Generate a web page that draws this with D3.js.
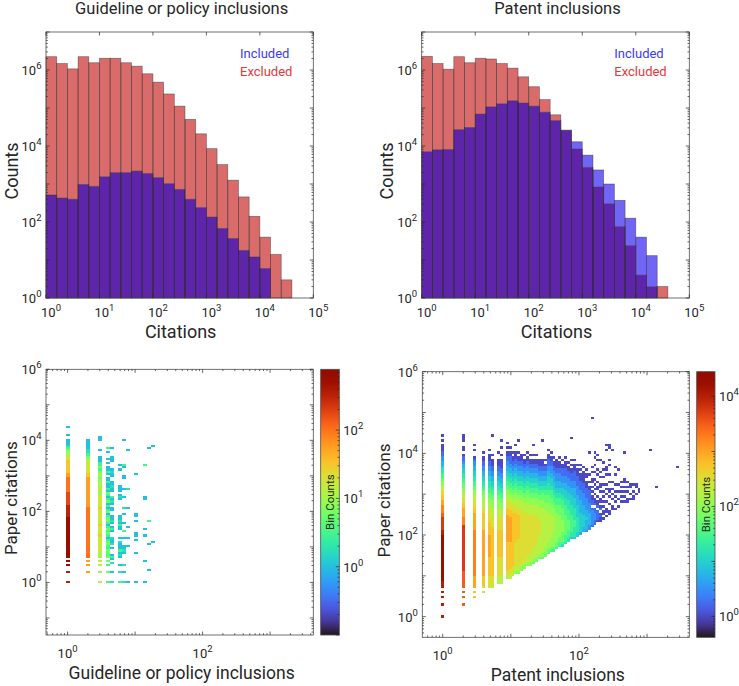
<!DOCTYPE html>
<html lang="en">
<head>
<meta charset="UTF-8">
<title>Inclusions vs citations</title>
<script src="https://d3js.org/d3.v7.min.js"></script>
<style>
body { margin: 0; background: #fff; }
text { font-family: Roboto, "Open Sans", sans-serif; fill: #262626; }
.frame { fill: none; stroke: #4d4d4d; stroke-width: 0.8; }
.tick { stroke: #262626; stroke-width: 0.7; }
.edge { fill: none; stroke: #2a2a2a; stroke-opacity: 0.55; stroke-width: 0.7; }
.cell { shape-rendering: crispEdges; }
</style>
</head>
<body>
<svg id="fig" width="739" height="686"></svg>
<script>
// log10 of the histogram bin edges (citations)
const binEdges = [0, 0.2, 0.4, 0.6, 0.8, 1, 1.2, 1.4, 1.6, 1.8, 2, 2.2, 2.4, 2.6, 2.8, 3, 3.2, 3.4, 3.6, 3.8, 4, 4.2, 4.4, 4.6];

const guideExcluded = [2240000, 1480000, 1070000, 2240000, 1550000, 2040000, 2040000, 1550000, 1260000, 794000, 479000, 234000, 112000, 50100, 20900, 8510, 3240, 1260, 457, 141, 40, 14, 3];
const guideIncluded = [513, 427, 398, 977, 871, 1550, 2000, 2000, 2190, 1900, 1480, 1020, 724, 398, 240, 135, 68, 37, 18, 12, 6, 0, 0];
const patentExcluded = [2290000, 1480000, 1050000, 2240000, 1550000, 2040000, 1950000, 1480000, 1120000, 661000, 363000, 166000, 66100, 25700, 8320, 2750, 832, 302, 76, 24, 4, 2, 2];
const patentIncluded = [7080, 7940, 8130, 26900, 30900, 69200, 107000, 129000, 155000, 135000, 112000, 77600, 46800, 26300, 12900, 5750, 2340, 1000, 372, 126, 40, 13, 0];

// exponents that get a 10^n label
const histXLabels = [0, 1, 2, 3, 4, 5];
const histYLabels = [0, 2, 4, 6];
const heatXLabels = [0, 2];
const heatYLabels = [0, 2, 4, 6];
const guideBarLabels = [0, 1, 2];
const patentBarLabels = [0, 2, 4];

// 2-D histogram cells: [x bin, first y bin, codes going up]
// code index * 0.25 = log10(count), '.' = empty bin
const levels = '0123456789ABCDEFGHI';

const guideCells = [
  [0, 0, "A....A..B.B.B BBBB BBBBBBBBBBBBBB AAAAAA9999 99888888877 66666655 44321 000.0 ...0"],
  [5, 5, "7..7.7.8 8888 8888888888888888888 77777777777777 665555544 321 100000"],
  [8, 0, "4....4..5.5.4 4455 555556555565555555655555 44454444344 32322 000 ..0....00"],
  [10, 0, "2....3..2.3.3 2332 23320232320233 203202032023020 0200.0200. 0.0..0.2"],
  [11, 0, "1....0...1.020..0.1001..020.0100..00.0102..00100..0010...000...0"],
  [13, 0, "2....1..0...01020001.0...0020100.......010.000.......0.0"],
  [14, 0, "1....0..1.....0100...0..2...0...0..1....0...0....00...02...........0"],
  [15, 0, "0"], [15, 17, "0"], [15, 21, "0"], [15, 26, "0"], [15, 35, "0"], [15, 44, "1"], [15, 62, "0"],
  [17, 0, "0"], [17, 14, "0"], [17, 20, "0"], [17, 22, "00"], [17, 29, "0"], [17, 31, "00"], [17, 51, "0"],
  [19, 0, "0"], [19, 10, "0"], [19, 22, "0"], [19, 25, "0"], [19, 39, "00"], [19, 55, "2"],
  [20, 6, "0"], [20, 18, "0"], [20, 29, "2"], [20, 63, "0"],
  [21, 19, "0"], [21, 64, "0"]
];

const patentCells = [
  [0, 0, "G....G..G.G.G GG HHHHHHHHHHHHHHHHHHH GG FFFFF EEDDD CCBBA A9988 76655 4332 211000 .0.0"],
  [7, 5, "E..E.E.E EEEEEE FFFFFFFFFFFFFFFFFFF DDDCCCCB BAA99 88776 65544 332 110 .00..000"],
  [11, 8, "B.B.C CCCC DDDDDDDDDDDDDDDDDDD CCCCCCC BBAAA 99887 76655 4433 2210 ..0.0"],
  [14, 10, "A.A BBBB CCCCCCCCCCCCCCCCCCC BBBBBBB AA999 88776 65544 3322 1100 .0"],
  [16, 12, "9 AAAA BBBBBBBB CCCCCCCCC BBBBB AAAAA 99988 77665 55443 3221 100 0.0"],
  [17, 12, "9 AAAA BBBBBBBB BBBBBBBBB BBBAA AA999 98887 76655 44332 2110 00. 0.......0"],
  [19, 14, "999 AAAAAAAA BBBBBBBBBBB AAAAA 99998 88776 65544 33221 100 0..0"],
  [20, 14, "999 AAAAAAAA BBBBBBBBBBB AAAAA 99988 87766 55443 32211 000 0.0..0..0"],
  [22, 16, "9AAB BBBBBBBBBBB CCCCCCCCCCC BBBAA A9988 77665 54433 2211 00 .0.0"],
  [23, 16, "99AA BBBBBBBBBBB CCCCCCCCCCB BBAAA 99887 76655 44332 2111 0 0.0"],
  [24, 17, "99AA BBBBBBBBBB BBBBBBBBBBB BAAA9 98877 66554 43322 1100 .0"],
  [25, 18, "899A AAAAAAAAAB BBBBBBBBBBB AAA99 98877 66554 43322 1100 0..0"],
  [26, 18, "899A AAAAAAAAAA BBBBBBBBBBA AA999 88776 65544 33221 100 .0....0"],
  [27, 19, "889A AAAAAAAAA AAAAAAAAAAA A9999 88776 65544 33221 100 0"],
  [28, 20, "889 AAAAAAAAA AAAAAAAAAAA 99998 87766 55443 32211 00 .0"],
  [29, 21, "889 9AAAAAAAA AAAAAAAAAA9 99988 87766 55443 32211 0 0.0"],
  [30, 21, "889 99AAAAAAA AAAAAAAAA99 99888 77665 54433 22110 0.0"],
  [31, 22, "789 999AAAAAA AAAAAAAA999 98887 76655 44332 2110 0.0...0"],
  [32, 23, "789 9999AAAAA AAAAAAA9999 88877 66554 43322 1100 .0"],
  [33, 24, "78 99999999A AAAAA99999 88877 66554 43322 1100 0"],
  [34, 24, "78 8999999999 9999999998 88777 65544 33221 100 0.......0"],
  [35, 25, "78 8899999999 999999988 87776 65544 33221 10 .0"],
  [36, 26, "77 888999999 99999988 88777 66555 44433 22111 00 .0"],
  [37, 27, "67 88889999 99999888 87776 66554 44332 22110 0.0"],
  [38, 27, "67 88888899 9999888 87766 65544 43332 21100 .0"],
  [39, 28, "67 7888888 8888887 77666 55443 33222 11000 0"],
  [40, 29, "66 778888 8888877 77666 55443 33222 11000 .0"],
  [41, 29, "56 777788 8887777 76665 54443 32221 1100. 0"],
  [42, 30, "56 66777 7777766 66555 44433 32221 1100 0.0"],
  [43, 31, "55 6667 777666 65555 44433 32221 1100 .0"],
  [44, 32, "45 5666 66665 55544 44333 22211 100. 0.0 ........0"],
  [45, 32, "45 5556 66555 55444 43333 22211 1100 0.0"],
  [46, 33, "44 555 55544 44433 33222 21111 000. 0"],
  [47, 34, "34 444 44443 33332 22211 1100 0.0.0"],
  [48, 35, "33 44 44433 33222 22111 1000 00.0"],
  [49, 35, "23 33 34333 22222 11110 00.00 .0"],
  [50, 36, "22 33 33322 22111 1100. 0..0........0"],
  [51, 37, "12 22 2221. 1100. 0.0.0 0..0.0"], [51, 81, "0"],
  [52, 38, "11 22 211.1 00.0. 0.0.0 ..0"], [52, 62, "0..0.0"],
  [53, 39, "01 11 1.100 .0..0 0.0.. 0.0"], [53, 63, ".0.0"],
  [54, 39, "00 10 .10.0 0..0. 00..0 .0"], [54, 64, "0"],
  [55, 40, "0. 00 .0.0. 0.0.. 0..0"], [55, 60, "0..0"],
  [56, 41, "0.0 0..0 ..0.0 .0... 0.00"], [56, 68, "0.0"],
  [57, 42, "00. .0 ..0.0 0..0. .0"], [57, 62, "0.0"], [57, 69, "00"],
  [58, 43, ".0 0.. 0.0.0 ..0"], [58, 68, "0"],
  [59, 44, "0..0 .0. 0..0"], [59, 58, "0..0"],
  [60, 45, "0. .0.. 0..0."], [60, 60, "0"],
  [61, 46, ".0.0 .0 .0.0"],
  [62, 47, "0.0. 0.0 .00"], [62, 67, "0"],
  [63, 47, "00 ..0 .0.0"],
  [64, 48, "0.0 ..00"],
  [65, 48, "00. 0..0"],
  [66, 50, "0 ..00"],
  [67, 50, ".0 0"],
  [71, 68, "0"], [73, 53, "0"], [80, 61, "0"]
];

const svg = d3.select('#fig');
const pow = e => Math.pow(10, e);
const lg = v => Math.log10(v);

// "10" with a raised exponent
function powLabel(g, x, y, e, anchor) {
  const t = g.append('text').attr('x', x).attr('y', y)
    .attr('text-anchor', anchor).style('font-size', '13px');
  t.append('tspan').text('10');
  t.append('tspan').attr('dy', -6).style('font-size', '9.5px').text(e);
}

// box with inward ticks on all four sides
function box(g, x, y, w, h, xMinor, yMinor) {
  g.append('rect').attr('class', 'frame').attr('width', w).attr('height', h);
  const xd = x.domain().map(lg), yd = y.domain().map(lg);
  const marks = (d, minor) => {
    const out = [];
    for (let e = Math.floor(d[0]); e <= Math.ceil(d[1]); e++) {
      for (let k = 1; k <= (minor ? 9 : 1); k++) {
        const v = k * pow(e);
        if (lg(v) >= d[0] - 1e-9 && lg(v) <= d[1] + 1e-9) out.push({v, len: k === 1 ? 3.5 : 1.8});
      }
    }
    return out;
  };
  marks(xd, xMinor).forEach(m => {
    const px = x(m.v);
    g.append('line').attr('class', 'tick').attr('x1', px).attr('x2', px).attr('y1', h).attr('y2', h - m.len);
    g.append('line').attr('class', 'tick').attr('x1', px).attr('x2', px).attr('y1', 0).attr('y2', m.len);
  });
  marks(yd, yMinor).forEach(m => {
    const py = y(m.v);
    g.append('line').attr('class', 'tick').attr('y1', py).attr('y2', py).attr('x1', 0).attr('x2', m.len);
    g.append('line').attr('class', 'tick').attr('y1', py).attr('y2', py).attr('x1', w).attr('x2', w - m.len);
  });
}

// ---- top row: overlapping histograms ----
const colExc = '#d96b6b', colInc = '#7165f6', colBoth = '#5e25aa';

function drawHist(p) {
  const g = svg.append('g').attr('transform', `translate(${p.left},${p.top})`);
  const x = d3.scaleLog().domain([1, 1e5]).range([0, p.w]);
  const y = d3.scaleLog().domain([1, 1e7]).range([p.h, 0]).clamp(true);
  const top = v => v > 0 ? y(v) : p.h;
  const bins = p.exc.map((e, i) => ({
    x0: x(pow(binEdges[i])), x1: x(pow(binEdges[i + 1])), exc: e, inc: p.inc[i]
  }));

  // part above the shared region
  g.selectAll('.solo').data(bins).join('rect').attr('class', 'solo')
    .attr('x', d => d.x0).attr('width', d => d.x1 - d.x0)
    .attr('y', d => top(Math.max(d.exc, d.inc)))
    .attr('height', d => top(Math.min(d.exc, d.inc)) - top(Math.max(d.exc, d.inc)))
    .attr('fill', d => d.exc >= d.inc ? colExc : colInc);
  // shared region
  g.selectAll('.both').data(bins).join('rect').attr('class', 'both')
    .attr('x', d => d.x0).attr('width', d => d.x1 - d.x0)
    .attr('y', d => top(Math.min(d.exc, d.inc)))
    .attr('height', d => p.h - top(Math.min(d.exc, d.inc)))
    .attr('fill', colBoth);
  // bar edges of both histograms
  ['exc', 'inc'].forEach(k => {
    g.selectAll('.edge-' + k).data(bins.filter(d => d[k] > 0)).join('rect')
      .attr('class', 'edge edge-' + k)
      .attr('x', d => d.x0).attr('width', d => d.x1 - d.x0)
      .attr('y', d => top(d[k])).attr('height', d => p.h - top(d[k]));
  });

  box(g, x, y, p.w, p.h, false, true);

  histXLabels.forEach(e => powLabel(g, x(pow(e)) + 5, p.h + 19, e, 'middle'));
  histYLabels.forEach(e => powLabel(g, -4.5, y(pow(e)) + 5, e, 'end'));

  g.append('text').attr('x', p.w / 2 + 1).attr('y', p.h + 40).attr('text-anchor', 'middle')
    .style('font-size', '18px').text('Citations');
  g.append('text').attr('transform', `translate(${p.ylabX},${p.h / 2 + 6}) rotate(-90)`)
    .attr('text-anchor', 'middle').style('font-size', '18px').text('Counts');
  g.append('text').attr('x', p.w / 2 + 2).attr('y', -18.5).attr('text-anchor', 'middle')
    .style('font-size', '16.5px').text(p.title);

  g.append('text').attr('x', p.legX).attr('y', 26).style('font-size', '13px')
    .style('fill', '#3b3bf2').text('Included');
  g.append('text').attr('x', p.legX).attr('y', 44).style('font-size', '13px')
    .style('fill', '#e03a3a').text('Excluded');
}

drawHist({left: 46, top: 32, w: 267.3, h: 266, exc: guideExcluded, inc: guideIncluded,
  title: 'Guideline or policy inclusions', legX: 194, ylabX: -28});
drawHist({left: 421.7, top: 32, w: 267.6, h: 266, exc: patentExcluded, inc: patentIncluded,
  title: 'Patent inclusions', legX: 192.6, ylabX: -29});

// ---- bottom row: 2-D histograms ----
function drawHeat(p) {
  const g = svg.append('g').attr('transform', `translate(${p.left},${p.top})`);
  const x = d3.scaleLog().domain(p.xDom).range([0, p.w]);
  const y = d3.scaleLog().domain(p.yDom).range([p.h, 0]);
  const c = d3.scaleLog().domain(p.cDom).range([0, 1]).clamp(true);

  const cells = [];
  p.cells.forEach(([j, r0, codes]) => {
    [...codes.replace(/ /g, '')].forEach((ch, k) => {
      if (ch !== '.') cells.push({j, r: r0 + k, count: pow(levels.indexOf(ch) * 0.25)});
    });
  });

  g.selectAll('.cell').data(cells).join('rect').attr('class', 'cell')
    .attr('x', d => x(pow((d.j - 0.5) * p.xStep)))
    .attr('width', d => x(pow((d.j + 0.5) * p.xStep)) - x(pow((d.j - 0.5) * p.xStep)))
    .attr('y', d => y(pow((d.r + 0.5) * p.yStep)))
    .attr('height', d => y(pow((d.r - 0.5) * p.yStep)) - y(pow((d.r + 0.5) * p.yStep)))
    .attr('fill', d => d3.interpolateTurbo(c(d.count)));

  box(g, x, y, p.w, p.h, true, true);

  heatXLabels.forEach(e => powLabel(g, x(pow(e)), p.h + 23, e, 'middle'));
  heatYLabels.forEach(e => powLabel(g, -4.5, y(pow(e)) + 5, e, 'end'));

  g.append('text').attr('x', p.w / 2 + 2).attr('y', p.h + 44).attr('text-anchor', 'middle')
    .style('font-size', '17.5px').text(p.xlab);
  g.append('text').attr('transform', `translate(${p.ylabX},${p.h / 2 - 4}) rotate(-90)`)
    .attr('text-anchor', 'middle').style('font-size', '17px').text('Paper citations');

  // colour bar
  const id = 'grad' + p.key;
  const grad = svg.append('defs').append('linearGradient').attr('id', id)
    .attr('x1', 0).attr('y1', 1).attr('x2', 0).attr('y2', 0);
  d3.range(0, 1.0001, 0.05).forEach(t => grad.append('stop')
    .attr('offset', t).attr('stop-color', d3.interpolateTurbo(t)));
  const cb = g.append('g').attr('transform', `translate(${p.cbX},0)`);
  const cy = d3.scaleLog().domain(p.cDom).range([p.h, 0]);
  cb.append('rect').attr('width', p.cbW).attr('height', p.h).attr('fill', `url(#${id})`);
  cb.append('rect').attr('class', 'frame').attr('width', p.cbW).attr('height', p.h);
  const cd = p.cDom.map(lg);
  for (let e = Math.floor(cd[0]); e <= Math.ceil(cd[1]); e++) {
    for (let k = 1; k <= 9; k++) {
      const v = k * pow(e);
      if (lg(v) < cd[0] || lg(v) > cd[1]) continue;
      cb.append('line').attr('class', 'tick')
        .attr('x1', p.cbW).attr('x2', p.cbW - (k === 1 ? 3.5 : 1.8))
        .attr('y1', cy(v)).attr('y2', cy(v));
    }
  }
  p.cbLabels.forEach(e => powLabel(cb, p.cbW + 4, cy(pow(e)) + 5, e, 'start'));
  cb.append('text').attr('transform', `translate(${p.cbW / 2 + 4},${p.h / 2}) rotate(-90)`)
    .attr('text-anchor', 'middle').style('font-size', '11.5px').text('Bin Counts');
}

drawHeat({key: 'g', left: 46, top: 369.3, w: 267.3, h: 265.7,
  xDom: [pow(-0.32), pow(3.64)], yDom: [pow(-1.48), 1e6], cDom: [pow(-1), pow(2.89)],
  xStep: 0.06, yStep: 0.06, cells: guideCells, cbLabels: guideBarLabels,
  cbX: 274.7, cbW: 18.6, xlab: 'Guideline or policy inclusions', ylabX: -29});
drawHeat({key: 'p', left: 422.3, top: 371.7, w: 267, h: 265.6,
  xDom: [pow(-0.3), pow(3.62)], yDom: [pow(-0.506), 1e6], cDom: [pow(-0.38), pow(4.45)],
  xStep: 0.043, yStep: 0.06, cells: patentCells, cbLabels: patentBarLabels,
  cbX: 274.4, cbW: 18.3, xlab: 'Patent inclusions', ylabX: -32});
</script>
</body>
</html>
